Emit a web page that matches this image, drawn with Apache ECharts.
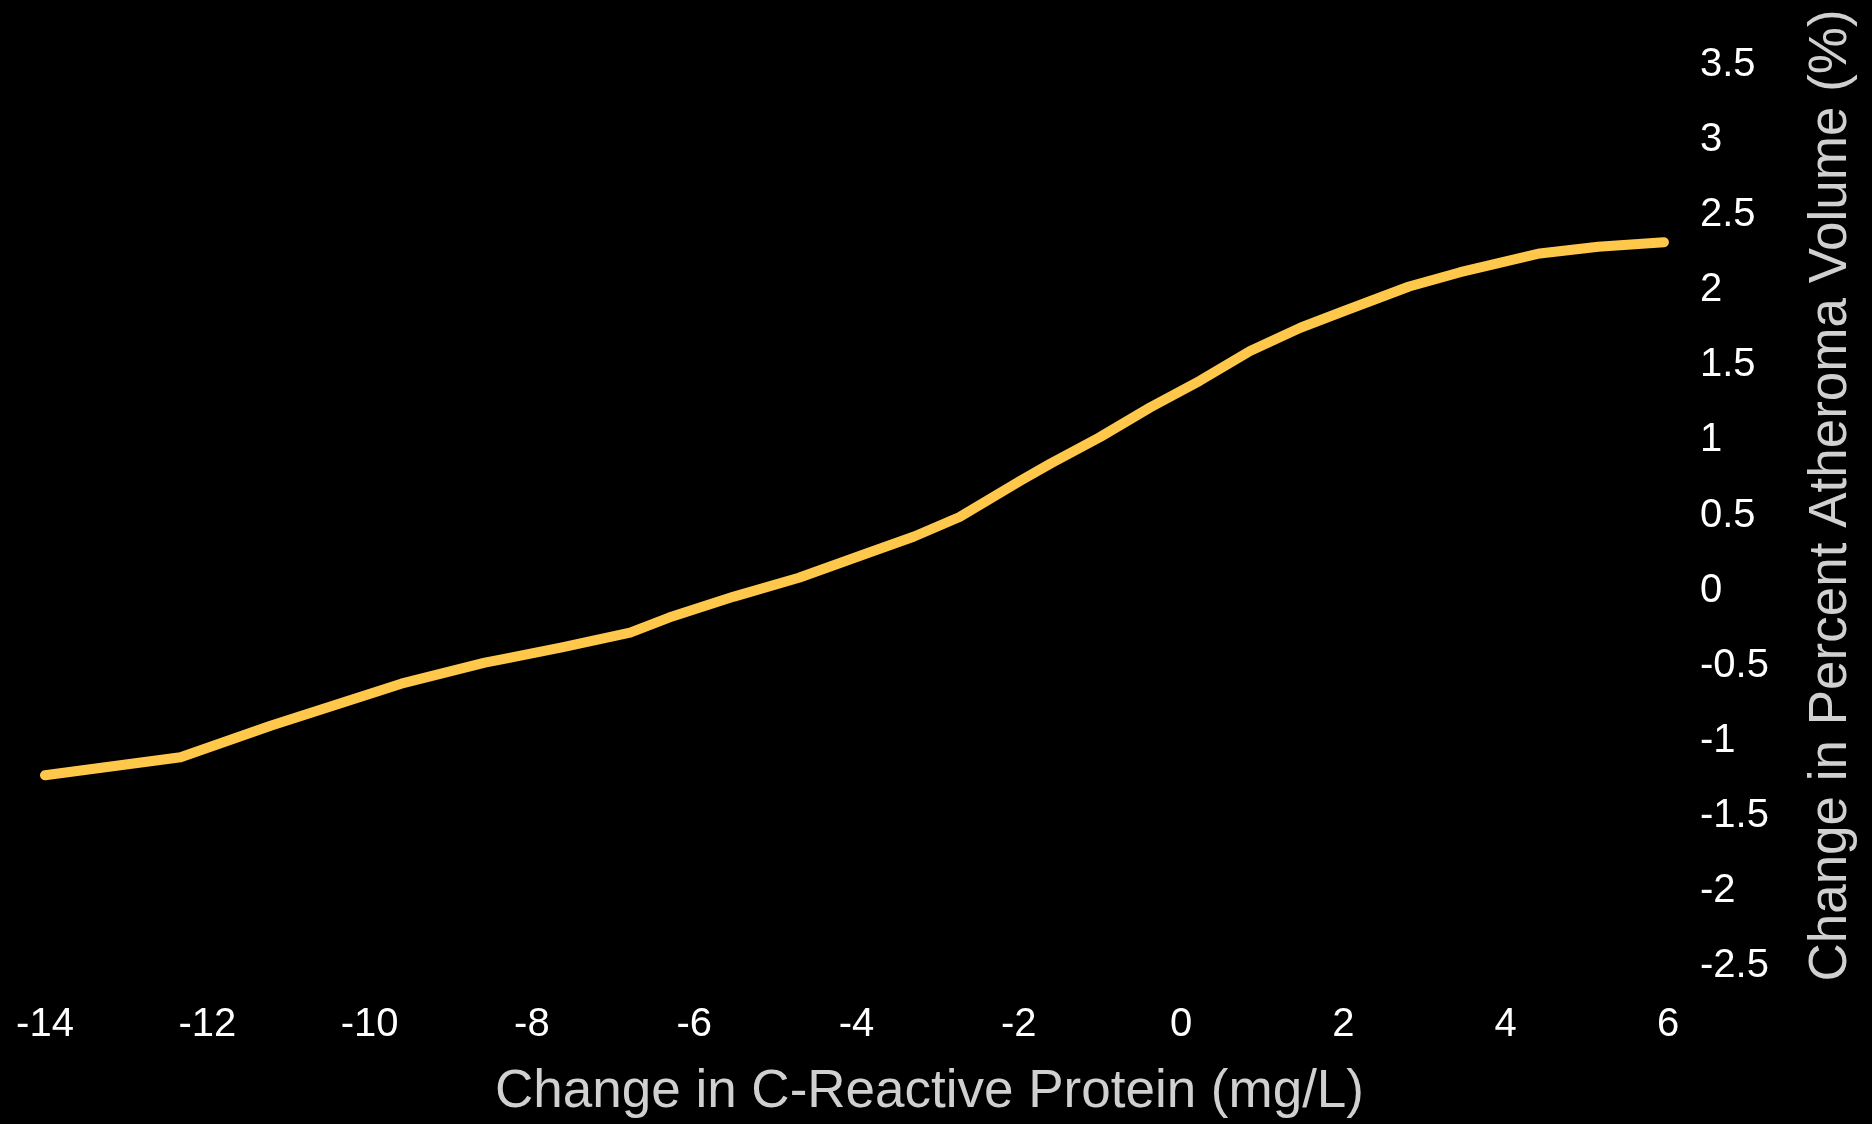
<!DOCTYPE html>
<html>
<head>
<meta charset="utf-8">
<script src="https://cdn.jsdelivr.net/npm/echarts@6/dist/echarts.min.js"></script>
<style>
html,body{margin:0;padding:0;background:#000;}
#chart{width:1872px;height:1124px;}
</style>
</head>
<body>
<div id="chart"></div>
<script>
const crpChange = [-14, -12.33, -11.22, -9.61, -8.58, -8.34, -7.63, -6.79, -6.31, -5.51, -4.71, -3.86, -3.29, -2.73, -1.97, -1.61, -1.0, -0.38, 0.23, 0.85, 1.47, 2.0, 2.81, 3.44, 4.42, 5.14, 5.95];
const atheromaChange = [-1.23, -1.11, -0.90, -0.62, -0.48, -0.455, -0.378, -0.28, -0.18, -0.04, 0.085, 0.25, 0.36, 0.49, 0.735, 0.846, 1.022, 1.22, 1.397, 1.595, 1.75, 1.86, 2.025, 2.12, 2.245, 2.29, 2.32];
const xTitle = 'Change in C-Reactive Protein (mg/L)';
const yTitle = 'Change in Percent Atheroma Volume (%)';

const chart = echarts.init(document.getElementById('chart'));
chart.setOption({
  backgroundColor: '#000000',
  animation: false,
  grid: { left: 45, right: 204, top: 65, bottom: 151.5, containLabel: false },
  xAxis: {
    type: 'value', min: -14, max: 6, interval: 2,
    axisLine: { show: false }, axisTick: { show: false }, splitLine: { show: false },
    axisLabel: { color: '#ffffff', fontSize: 40, fontFamily: 'Liberation Sans', margin: 39 },
    name: xTitle, nameLocation: 'middle', nameGap: 100,
    nameTextStyle: { color: '#d0d0d0', fontSize: 53, fontFamily: 'Liberation Sans', padding: [0, 0, 0, 146] }
  },
  yAxis: {
    type: 'value', position: 'right', min: -2.5, max: 3.5, interval: 0.5,
    axisLine: { show: false }, axisTick: { show: false }, splitLine: { show: false },
    axisLabel: { color: '#ffffff', fontSize: 40, fontFamily: 'Liberation Sans', margin: 32, align: 'left' },
    name: yTitle, nameLocation: 'middle', nameRotate: 90, nameGap: 137,
    nameTextStyle: { color: '#d0d0d0', fontSize: 53, fontFamily: 'Liberation Sans', padding: [0, 0, 0, 40] }
  },
  series: [{
    type: 'line',
    data: crpChange.map((x, i) => [x, atheromaChange[i]]),
    showSymbol: false,
    smooth: false,
    lineStyle: { color: '#FFC84B', width: 10, cap: 'round', join: 'round' }
  }]
});
</script>
</body>
</html>
